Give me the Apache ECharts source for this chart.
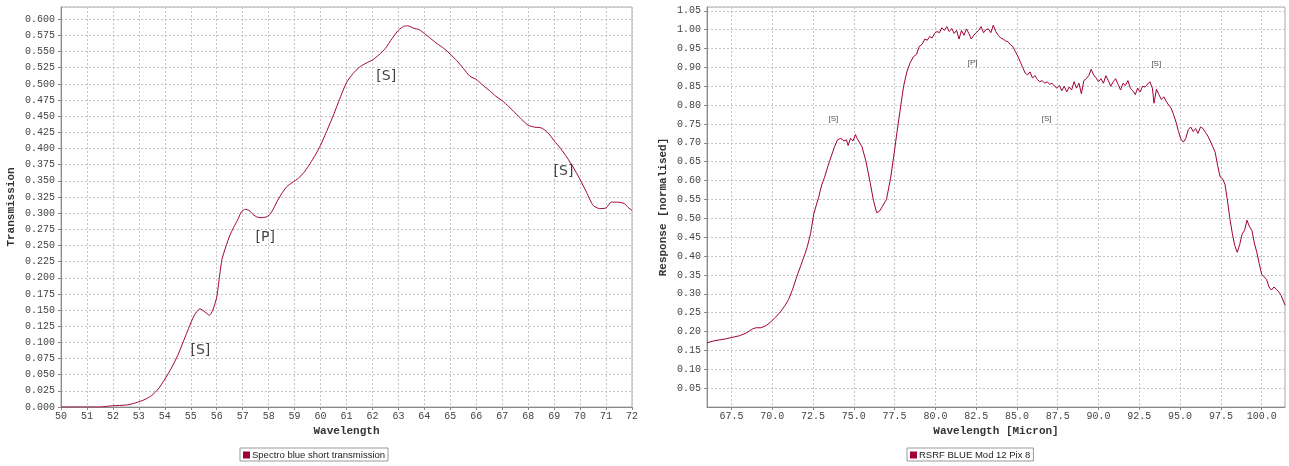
<!DOCTYPE html>
<html>
<head>
<meta charset="utf-8">
<script src="https://cdn.jsdelivr.net/npm/echarts@6/dist/echarts.min.js"></script>
<style>
html,body{margin:0;padding:0;background:#fff;}
#c{width:1289px;height:466px;}
</style>
</head>
<body>
<div id="c"></div>
<script>
// ---------- Left chart data ----------
const leftSeriesName = 'Spectro blue short transmission';
const leftWave = [50.0,50.5,51.0,51.5,51.75,52.0,52.5,52.75,53.0,53.25,53.5,53.75,54.0,54.25,54.5,54.75,55.0,55.15,55.35,55.55,55.72,55.85,56.0,56.1,56.2,56.35,56.5,56.65,56.8,56.95,57.1,57.25,57.4,57.55,57.7,57.9,58.05,58.2,58.35,58.5,58.7,58.9,59.15,59.4,59.6,59.8,60.0,60.25,60.5,60.75,61.0,61.25,61.5,61.75,62.0,62.25,62.5,62.75,63.0,63.2,63.35,63.6,63.8,64.0,64.25,64.5,64.75,65.0,65.25,65.5,65.75,66.0,66.25,66.5,66.75,67.0,67.25,67.5,67.75,68.0,68.25,68.5,68.75,69.0,69.25,69.5,69.75,70.0,70.25,70.5,70.75,71.0,71.2,71.45,71.7,71.85,72.0];
const leftTrans = [0.000,0.000,0.000,0.000,0.001,0.002,0.003,0.005,0.008,0.012,0.018,0.028,0.043,0.060,0.080,0.105,0.130,0.143,0.152,0.147,0.142,0.150,0.170,0.200,0.228,0.248,0.265,0.278,0.289,0.302,0.306,0.304,0.298,0.294,0.293,0.294,0.298,0.308,0.320,0.330,0.341,0.347,0.354,0.365,0.377,0.390,0.405,0.428,0.452,0.478,0.502,0.516,0.526,0.532,0.537,0.545,0.555,0.570,0.583,0.589,0.590,0.586,0.584,0.578,0.570,0.562,0.555,0.546,0.536,0.524,0.512,0.507,0.498,0.490,0.481,0.474,0.465,0.455,0.445,0.436,0.433,0.432,0.425,0.412,0.400,0.386,0.370,0.352,0.332,0.312,0.307,0.308,0.317,0.317,0.315,0.309,0.304];
const leftNoteX = [55.37,57.87,62.53,69.36];
const leftNoteY = [0.088,0.262,0.512,0.364];
const leftNoteText = ['[S]','[P]','[S]','[S]'];

// ---------- Right chart data ----------
const rightSeriesName = 'RSRF BLUE Mod 12 Pix 8';
const rightWave = [66.0,66.4,66.8,67.2,67.6,68.0,68.4,68.8,69.0,69.3,69.6,69.9,70.2,70.5,70.8,71.0,71.25,71.5,71.75,72.0,72.15,72.35,72.55,72.7,72.85,72.95,73.05,73.2,73.36,73.5,73.67,73.82,74.0,74.2,74.4,74.55,74.65,74.8,74.95,75.1,75.2,75.3,75.5,75.75,76.0,76.2,76.4,76.55,76.7,77.0,77.25,77.45,77.65,77.85,78.05,78.25,78.45,78.65,78.85,79.0,79.2,79.35,79.5,79.65,79.8,79.95,80.1,80.25,80.4,80.55,80.7,80.85,81.0,81.15,81.3,81.45,81.6,81.75,81.9,82.05,82.2,82.35,82.5,82.65,82.8,82.95,83.1,83.25,83.4,83.55,83.7,83.85,84.0,84.15,84.3,84.45,84.6,84.75,84.9,85.05,85.2,85.35,85.5,85.65,85.8,85.95,86.1,86.25,86.4,86.55,86.7,86.85,87.0,87.15,87.3,87.45,87.6,87.75,87.9,88.05,88.2,88.35,88.5,88.65,88.8,88.95,89.1,89.25,89.4,89.55,89.7,89.85,90.0,90.15,90.3,90.45,90.6,90.75,90.9,91.05,91.2,91.35,91.5,91.65,91.8,91.95,92.1,92.25,92.4,92.55,92.7,92.85,93.0,93.15,93.3,93.4,93.55,93.7,93.85,94.0,94.15,94.3,94.45,94.6,94.75,94.9,95.05,95.2,95.35,95.5,95.65,95.8,95.95,96.1,96.25,96.4,96.55,96.7,96.85,97.0,97.15,97.3,97.45,97.6,97.75,97.9,98.05,98.2,98.35,98.5,98.65,98.8,98.95,99.1,99.25,99.4,99.55,99.7,99.85,100.0,100.15,100.3,100.45,100.6,100.75,100.9,101.05,101.2,101.43];
const rightResp = [0.170,0.175,0.178,0.181,0.185,0.189,0.196,0.207,0.210,0.210,0.215,0.225,0.238,0.252,0.270,0.285,0.312,0.345,0.375,0.405,0.425,0.460,0.512,0.535,0.556,0.575,0.591,0.608,0.631,0.650,0.671,0.690,0.708,0.712,0.705,0.708,0.693,0.712,0.705,0.722,0.712,0.716,0.690,0.650,0.595,0.548,0.515,0.518,0.528,0.550,0.605,0.665,0.730,0.790,0.850,0.888,0.912,0.928,0.935,0.955,0.962,0.975,0.972,0.982,0.978,0.990,0.995,0.992,1.005,0.998,1.008,0.995,1.003,0.990,0.998,0.975,0.998,0.985,1.002,0.990,0.975,0.985,0.992,0.998,1.008,0.992,1.000,1.002,0.992,1.012,0.995,0.985,0.978,0.975,0.970,0.968,0.960,0.955,0.942,0.930,0.915,0.900,0.885,0.880,0.888,0.872,0.878,0.868,0.862,0.865,0.858,0.862,0.855,0.858,0.850,0.845,0.852,0.838,0.850,0.835,0.848,0.840,0.862,0.845,0.858,0.830,0.865,0.870,0.878,0.895,0.880,0.872,0.862,0.870,0.858,0.878,0.865,0.850,0.862,0.870,0.855,0.840,0.858,0.852,0.865,0.845,0.838,0.828,0.845,0.835,0.850,0.848,0.855,0.862,0.845,0.805,0.842,0.828,0.815,0.822,0.810,0.800,0.792,0.775,0.755,0.730,0.710,0.702,0.712,0.735,0.742,0.730,0.738,0.725,0.742,0.738,0.728,0.718,0.705,0.690,0.675,0.640,0.610,0.605,0.590,0.548,0.500,0.460,0.428,0.410,0.430,0.458,0.468,0.495,0.478,0.468,0.435,0.410,0.380,0.352,0.345,0.338,0.318,0.310,0.318,0.312,0.305,0.295,0.270];
const rightXTicks = [67.5,70.0,72.5,75.0,77.5,80.0,82.5,85.0,87.5,90.0,92.5,95.0,97.5,100.0];
const rightNoteX = [73.75,82.28,86.82,93.54];
const rightNoteY = [0.763,0.911,0.763,0.909];
const rightNoteText = ['[S]','[P]','[S]','[S]'];

// ---------- build ----------
const zip = (a,b) => a.map((v,i)=>[v,b[i]]);
const notes = (xs,ys,ts) => xs.map((v,i)=>[v,ys[i],ts[i]]);

const LINE = '#a1003c';
const AX = '#888888';
const GRIDC = '#c4c4c4';
const MONO = '"Liberation Mono", "Courier New", monospace';
const labelStyle = {color:'#444', fontFamily:MONO, fontSize:10};
const splitStyle = {show:true, lineStyle:{color:GRIDC, type:[2,2], width:1}};
const axisLineStyle = {show:true, lineStyle:{color:AX, width:1}};
const tickStyle = {show:true, length:3, lineStyle:{color:AX}};
const nameStyle = {color:'#333', fontFamily:MONO, fontSize:11, fontWeight:'bold'};

const chart = echarts.init(document.getElementById('c'), null, {renderer:'canvas'});
chart.setOption({
  animation:false,
  backgroundColor:'#ffffff',
  grid:[
    {left:61, top:7, right:657, bottom:59, show:true, borderColor:'#aaaaaa', borderWidth:1, backgroundColor:'#fff'},
    {left:707, top:7, right:4, bottom:59, show:true, borderColor:'#aaaaaa', borderWidth:1, backgroundColor:'#fff'}
  ],
  legend:[
    {data:[leftSeriesName], left:240, top:448, icon:'rect', itemWidth:7, itemHeight:7,
     borderColor:'#999', borderWidth:1, padding:[2,3,1,3], itemGap:4,
     textStyle:{fontFamily:'"Liberation Sans", Arial, sans-serif', fontSize:9.5, color:'#222', padding:[0,0,0,-3]}},
    {data:[rightSeriesName], left:907, top:448, icon:'rect', itemWidth:7, itemHeight:7,
     borderColor:'#999', borderWidth:1, padding:[2,3,1,3], itemGap:4,
     textStyle:{fontFamily:'"Liberation Sans", Arial, sans-serif', fontSize:9.5, color:'#222', padding:[0,0,0,-3]}}
  ],
  xAxis:[
    {type:'value', gridIndex:0, min:50, max:72, interval:1,
     name:'Wavelength', nameLocation:'middle', nameGap:18, nameTextStyle:nameStyle,
     axisLine:axisLineStyle, axisTick:tickStyle, splitLine:splitStyle,
     axisLabel:Object.assign({margin:4, formatter:v=>String(v)}, labelStyle)},
    {type:'value', gridIndex:1, min:66.0, max:101.43,
     name:'Wavelength [Micron]', nameLocation:'middle', nameGap:18, nameTextStyle:nameStyle,
     axisLine:axisLineStyle,
     axisTick:Object.assign({customValues:rightXTicks}, tickStyle),
     splitLine:splitStyle,
     axisLabel:Object.assign({margin:4, customValues:rightXTicks, formatter:v=>v.toFixed(1)}, labelStyle)}
  ],
  yAxis:[
    {type:'value', gridIndex:0, min:0, max:0.619, interval:0.025,
     name:'Transmission', nameLocation:'middle', nameGap:44, nameTextStyle:nameStyle,
     axisLine:axisLineStyle, axisTick:tickStyle, splitLine:splitStyle,
     axisLabel:Object.assign({margin:6, showMaxLabel:false, formatter:v=>v.toFixed(3)}, labelStyle)},
    {type:'value', gridIndex:1, min:0, max:1.06, interval:0.05,
     name:'Response [normalised]', nameLocation:'middle', nameGap:38, nameTextStyle:nameStyle,
     axisLine:axisLineStyle, axisTick:tickStyle, splitLine:splitStyle,
     axisLabel:Object.assign({margin:6, showMaxLabel:false, showMinLabel:false, formatter:v=>v.toFixed(2)}, labelStyle)}
  ],
  series:[
    {name:leftSeriesName, type:'line', xAxisIndex:0, yAxisIndex:0, data:zip(leftWave,leftTrans),
     showSymbol:false, symbol:'none', smooth:0.2, lineStyle:{color:LINE, width:1}, itemStyle:{color:LINE}},
    {name:rightSeriesName, type:'line', xAxisIndex:1, yAxisIndex:1, data:zip(rightWave,rightResp),
     showSymbol:false, symbol:'none', lineStyle:{color:LINE, width:1}, itemStyle:{color:LINE}},
    {name:'leftNotes', type:'scatter', xAxisIndex:0, yAxisIndex:0, silent:true,
     data:notes(leftNoteX,leftNoteY,leftNoteText), symbolSize:1, itemStyle:{color:'rgba(0,0,0,0)'},
     label:{show:true, position:'inside', formatter:p=>p.value[2], color:'#111',
            fontFamily:'"DejaVu Sans", sans-serif', fontSize:14}},
    {name:'rightNotes', type:'scatter', xAxisIndex:1, yAxisIndex:1, silent:true,
     data:notes(rightNoteX,rightNoteY,rightNoteText), symbolSize:1, itemStyle:{color:'rgba(0,0,0,0)'},
     label:{show:true, position:'inside', formatter:p=>p.value[2], color:'#222',
            fontFamily:'"Liberation Sans", sans-serif', fontSize:8}}
  ]
});
</script>
</body>
</html>
